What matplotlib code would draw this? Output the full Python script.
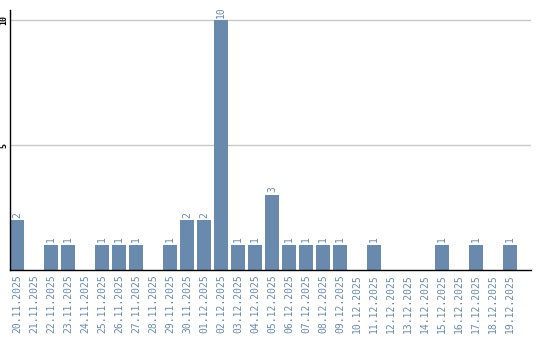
import matplotlib
matplotlib.use("Agg")
import matplotlib.pyplot as plt
import numpy as np

dates = ["20.11.2025", "21.11.2025", "22.11.2025", "23.11.2025", "24.11.2025",
         "25.11.2025", "26.11.2025", "27.11.2025", "28.11.2025", "29.11.2025",
         "30.11.2025", "01.12.2025", "02.12.2025", "03.12.2025", "04.12.2025",
         "05.12.2025", "06.12.2025", "07.12.2025", "08.12.2025", "09.12.2025",
         "10.12.2025", "11.12.2025", "12.12.2025", "13.12.2025", "14.12.2025",
         "15.12.2025", "16.12.2025", "17.12.2025", "18.12.2025", "19.12.2025"]
counts = [2, 0, 1, 1, 0, 1, 1, 1, 0, 1,
          2, 2, 10, 1, 1, 3, 1, 1, 1, 1,
          0, 1, 0, 0, 0, 1, 0, 1, 0, 1]
yticks = [5, 10]

bar_color = "#6a8aad"
label_color = "#6a8aad"

fig = plt.figure(figsize=(5.4, 3.4), dpi=100)
ax = fig.add_axes([10 / 540, 1 - 270 / 340, 521 / 540, 260 / 340])

x = np.arange(len(dates))
width = 14 / 17
ax.bar(x, counts, width=width, align="edge", color=bar_color, zorder=2)

# value labels above non-zero bars
for xi, v in zip(x, counts):
    if v > 0:
        ax.text(xi + width / 2, v + 0.1, str(v), rotation=90, ha="center", va="bottom",
                color=label_color, fontsize=7, family="DejaVu Sans Mono")

ax.set_xlim(0, 521 / 17)
ax.set_ylim(0, 10.4)
ax.set_xticks(x + width / 2)
ax.set_xticklabels(dates, rotation=90, color=label_color, fontsize=7,
                   family="DejaVu Sans Mono")
ax.set_yticks(yticks)
ax.set_yticklabels([str(t) for t in yticks], rotation=90, va="center",
                   fontsize=6, family="DejaVu Sans Mono", fontweight="bold")
ax.tick_params(axis="x", length=0, pad=3)
ax.tick_params(axis="y", length=0, pad=1)
ax.grid(axis="y", color="#c8c8c8", linewidth=1, zorder=0)

for s in ["top", "right"]:
    ax.spines[s].set_visible(False)
for s in ["left", "bottom"]:
    ax.spines[s].set_color("black")
    ax.spines[s].set_linewidth(1)

fig.savefig("out.png", dpi=100)
